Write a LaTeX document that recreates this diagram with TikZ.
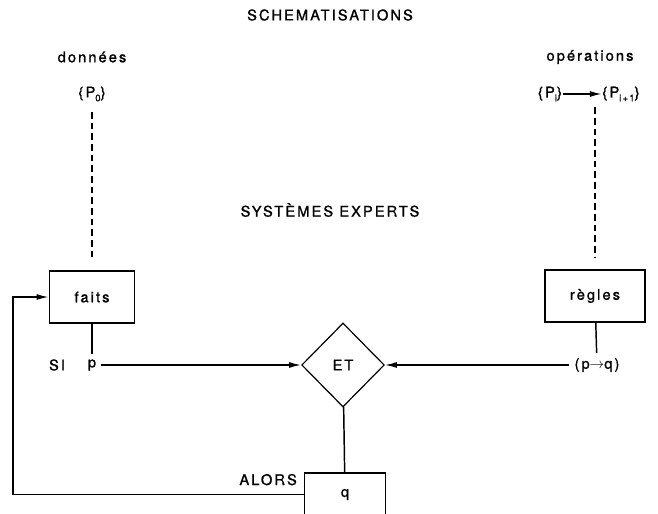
\documentclass[tikz,border=0pt]{standalone}
\usepackage{fontspec}
\setmainfont[LetterSpace=14,FakeBold=1.2]{TeX Gyre Heros}
\usetikzlibrary{shapes.geometric,arrows.meta}

\begin{document}
\begin{tikzpicture}[x=0.75pt,y=-0.75pt,line width=1.1pt,
  font=\fontsize{11}{13}\selectfont]
\tikzstyle{box}=[draw,rectangle,minimum width=64pt,minimum height=39pt,inner sep=0pt]
\tikzstyle{losange}=[draw,diamond,minimum width=62pt,minimum height=63pt,inner sep=0pt,line width=0.9pt]
\tikzstyle{pointille}=[dash pattern=on 5pt off 3pt]
\tikzstyle{fleche}=[-{Latex[length=9pt,width=4.5pt]}]
    \clip (0,0) rectangle (658,514);
    % titles
    \node (titre) at (330,15) {SCHEMATISATIONS};
    \node (sysexp) at (330,210) {SYSTÈMES EXPERTS};
    % left column
    \node (donnees) at (92,57) {données};
    \node (P0) at (92,94) {\{P\raisebox{-0.5ex}{\scriptsize 0}\}};
    \node[box] (faits) at (92,297) {faits};
    \node (p) at (92,365) {p};
    \node (SI) at (57,365) {SI};
    % right column
    \node (operations) at (590,57) {opérations};
    \node[inner sep=0pt] (Pi) at (550,94) {\{P\raisebox{-0.5ex}{\scriptsize i}\}};
    \node[inner sep=0pt] (Pi1) at (621,94) {\{P\raisebox{-0.5ex}{\scriptsize i+1}\}};
    \node[box,minimum width=75pt] (regles) at (595,296) {règles};
    \node (pq) at (597,365) {(p$\to$q)};
    % middle
    \node[losange] (ET) at (343,365) {ET};
    \node[box,minimum width=61pt,minimum height=32pt] (q) at (345,494.5) {q};
    \node[anchor=base east] (alors) at (302,485) {ALORS};
    \coordinate (retour) at (13,297);

    \draw[fleche] (Pi) -- (Pi1);
    \draw[pointille,shorten <=4pt,shorten >=9pt] (P0) -- (faits);
    \draw[pointille,shorten <=4pt,shorten >=9pt] (regles.north |- Pi.south) -- (regles.north);
    \draw (faits) -- (p);
    \draw (regles) -- (pq);
    \draw[fleche] (p) -- (ET);
    \draw[fleche] (pq) -- (ET);
    \draw (ET) -- (q);
    \draw[fleche] (q.west) -- (q.west -| retour) -- (retour) -- (faits.west);
\end{tikzpicture}
\end{document}
